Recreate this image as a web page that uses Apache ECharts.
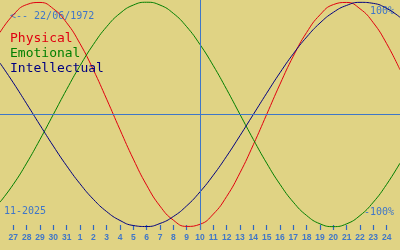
<!DOCTYPE html>
<html><head><meta charset="utf-8">
<script src="https://cdn.jsdelivr.net/npm/echarts@6/dist/echarts.min.js"></script>
<style>html,body{margin:0;padding:0;background:#e0d384;}#c{width:400px;height:250px;}</style>
</head><body><div id="c"></div>
<script>
// Days 26 Oct 2025 .. 25 Nov 2025
const days = ['26','27','28','29','30','31','1','2','3','4','5','6','7','8','9','10','11','12','13','14','15','16','17','18','19','20','21','22','23','24','25'];
const physical = [0.731,0.888,0.979,0.998,0.942,0.817,0.631,0.398,0.136,-0.136,-0.398,-0.631,-0.817,-0.942,-0.998,-0.979,-0.888,-0.731,-0.520,-0.270,0,0.270,0.520,0.731,0.888,0.979,0.998,0.942,0.817,0.631,0.398];
const emotional = [-0.782,-0.623,-0.434,-0.223,0,0.223,0.434,0.623,0.782,0.901,0.975,1,0.975,0.901,0.782,0.623,0.434,0.223,0,-0.223,-0.434,-0.623,-0.782,-0.901,-0.975,-1,-0.975,-0.901,-0.782,-0.623,-0.434];
const intellectual = [0.458,0.282,0.095,-0.095,-0.282,-0.458,-0.618,-0.756,-0.866,-0.945,-0.990,-0.999,-0.972,-0.910,-0.815,-0.690,-0.541,-0.372,-0.189,0,0.189,0.372,0.541,0.690,0.815,0.910,0.972,0.999,0.990,0.945,0.866];
const todayLabel = '10';
const birthText = '<-- 22/06/1972';
const monthText = '11-2025';

const blue = '#3f76c8';
const mono = '"DejaVu Sans Mono", "Liberation Mono", monospace';
const chart = echarts.init(document.getElementById('c'), null, {renderer:'canvas'});
const showIdx = (i) => i > 0 && i < days.length - 1;
chart.setOption({
  backgroundColor: '#e0d384',
  animation: false,
  grid: {left: 0, right: 0, top: 0, bottom: 20},
  legend: {
    orient: 'vertical', left: 5, top: 31, icon: 'none', itemWidth: 0, itemHeight: 15, itemGap: 0, padding: 0,
    selectedMode: false,
    textStyle: {fontFamily: mono, fontSize: 13, lineHeight: 15},
    data: [
      {name: 'Physical', textStyle: {color: '#e00010'}},
      {name: 'Emotional', textStyle: {color: '#007f00'}},
      {name: 'Intellectual', textStyle: {color: '#000080'}}
    ]
  },
  xAxis: {
    type: 'category', data: days, boundaryGap: false,
    axisLine: {show: false, onZero: false},
    axisTick: {show: true, inside: true, length: 5, interval: (i) => showIdx(i), lineStyle: {color: '#2f66c0', width: 1.2}},
    axisLabel: {interval: (i) => showIdx(i), margin: 3, color: blue, fontSize: 8.5, fontWeight: 'bold', fontFamily: '"Liberation Sans", Arial, sans-serif'},
    splitLine: {show: false}
  },
  yAxis: {type: 'value', min: -1.03, max: 1.02, show: false},
  series: [
    {name: 'Physical', type: 'line', data: physical, smooth: true, symbol: 'none', lineStyle: {color: '#e00010', width: 1}, itemStyle: {color: '#e00010'},
     markLine: {silent: true, symbol: 'none', label: {show: false}, lineStyle: {color: blue, type: 'solid', width: 1},
       data: [{xAxis: todayLabel}, {yAxis: 0}]}},
    {name: 'Emotional', type: 'line', data: emotional, smooth: true, symbol: 'none', lineStyle: {color: '#007f00', width: 1}, itemStyle: {color: '#007f00'}},
    {name: 'Intellectual', type: 'line', data: intellectual, smooth: true, symbol: 'none', lineStyle: {color: '#000080', width: 1}, itemStyle: {color: '#000080'}}
  ],
  graphic: [
    {type: 'text', left: 10, top: 11, style: {text: birthText, fill: blue, font: '10px ' + mono}},
    {type: 'text', right: 6, top: 6, style: {text: '100%', fill: blue, font: '10px ' + mono}},
    {type: 'text', right: 6, top: 207, style: {text: '-100%', fill: blue, font: '10px ' + mono}},
    {type: 'text', left: 4, top: 206, style: {text: monthText, fill: blue, font: '10px ' + mono}}
  ]
});
</script></body></html>
